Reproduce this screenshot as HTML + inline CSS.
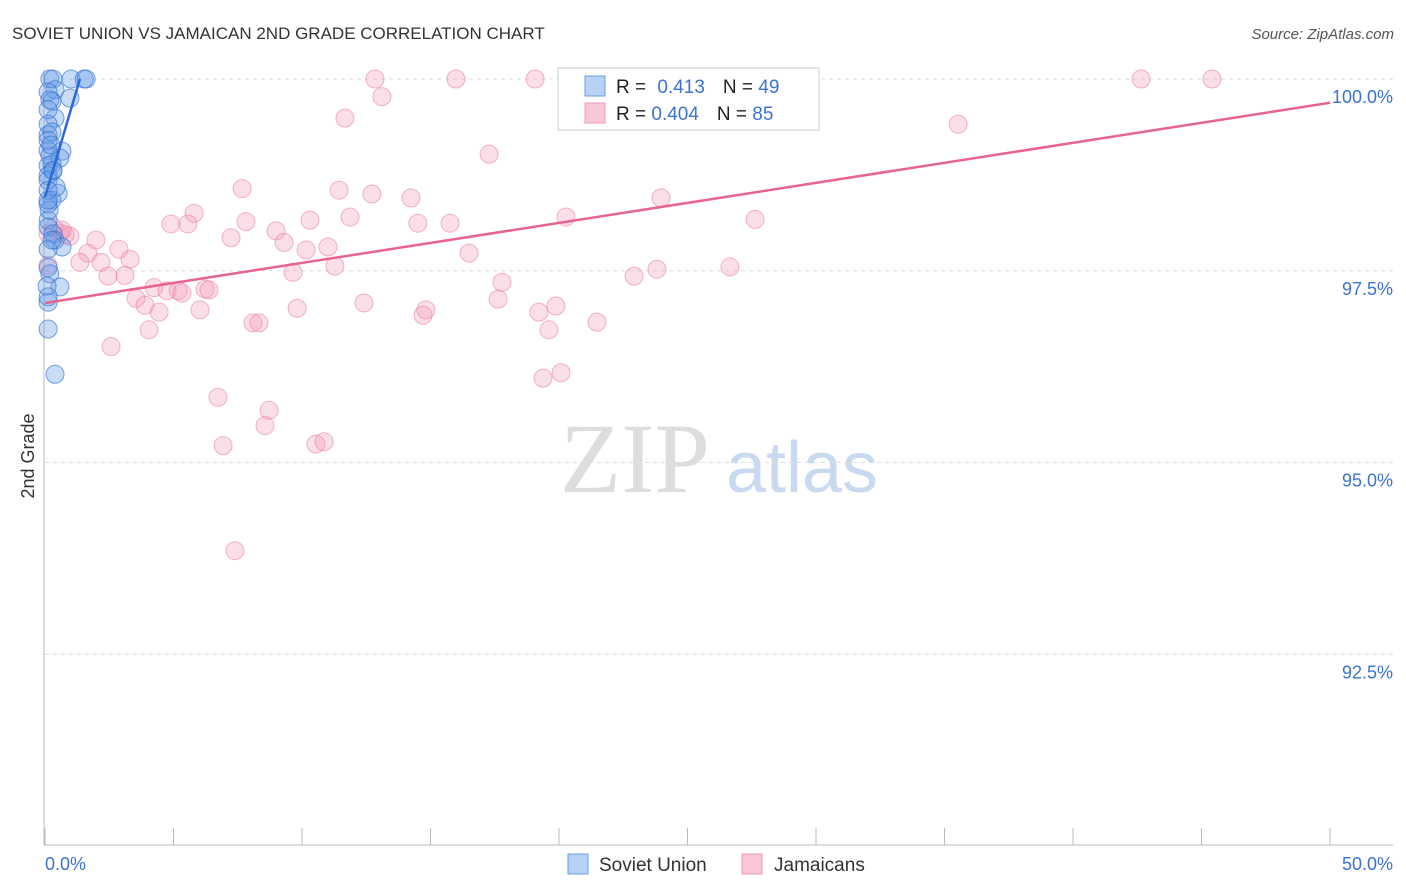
<!DOCTYPE html>
<html><head><meta charset="utf-8"><style>
body{margin:0;background:#fff;font-family:"Liberation Sans",sans-serif;}
svg{display:block}
</style></head><body>
<svg id="chart" width="1406" height="892">
<text x="12" y="39" font-size="17" fill="#333">SOVIET UNION VS JAMAICAN 2ND GRADE CORRELATION CHART</text>
<text x="1394" y="39" font-size="15" fill="#555" font-style="italic" text-anchor="end">Source: ZipAtlas.com</text>
<g>
<text x="635" y="492" font-size="100" fill="#ddd" text-anchor="middle" font-family="Liberation Serif,serif">ZIP</text>
<text x="802" y="492" font-size="72" fill="#c9daf0" text-anchor="middle">atlas</text>
</g>
<g id="grid"></g>
<g id="axes"></g>
<g id="pts"></g>
<g id="trend"></g>
<g>
<rect x="558" y="68" width="261" height="62" fill="#fff" stroke="#ccc"/>
<rect x="585" y="76" width="20" height="20" fill="#b8d2f5" stroke="#6a9fe0"/>
<rect x="585" y="103" width="20" height="20" fill="#f9c6d6" stroke="#ee9ab5"/>
<text x="616" y="93" font-size="19" fill="#222">R = <tspan fill="#3b73d1" dx="6">0.413</tspan><tspan dx="18" fill="#222">N = </tspan><tspan fill="#3b73d1">49</tspan></text>
<text x="616" y="120" font-size="19" fill="#222">R = <tspan fill="#3b73d1">0.404</tspan><tspan dx="18" fill="#222">N = </tspan><tspan fill="#3b73d1">85</tspan></text>
</g>
<text x="34" y="456" font-size="18" fill="#333" text-anchor="middle" transform="rotate(-90 34 456)">2nd Grade</text>
<g>
<rect x="568" y="854" width="20" height="20" fill="#b8d2f5" stroke="#6a9fe0"/>
<text x="599" y="871" font-size="19" fill="#333">Soviet Union</text>
<rect x="742" y="854" width="20" height="20" fill="#f9c6d6" stroke="#ee9ab5"/>
<text x="774" y="871" font-size="19" fill="#333">Jamaicans</text>
</g>
</svg>
<script>
const yTicks=[100,97.5,95,92.5];
const yTickLabels=["100.0%","97.5%","95.0%","92.5%"];
const xTickVals=[0,5,10,15,20,25,30,35,40,45,50];
const xEndLabels=["0.0%","50.0%"];
const pinkX=[12.84,15.99,19.07,26.5,27.24,42.65,45.41,13.11,11.67,35.53,17.28,7.67,23.97,11.44,12.72,14.24,5.8,4.9,5.56,7.82,10.31,11.87,14.51,15.76,20.27,27.63,8.99,7.24,9.3,10.16,11.01,16.5,0.35,0.58,0.97,1.98,2.88,1.67,1.36,2.18,3.31,9.65,11.28,22.92,23.81,26.65,2.45,3.11,17.78,3.54,3.89,4.24,4.75,5.18,5.33,6.23,6.38,6.03,4.44,9.81,12.41,14.82,14.71,17.63,19.22,19.88,19.61,21.48,4.05,8.09,8.33,2.57,6.73,8.72,8.56,6.93,10.54,10.86,7.39,19.38,20.08,0.12,0.12,0.78,0.66];
const pinkY=[100,100,100,100,100,100,100,99.77,99.49,99.41,99.02,98.57,98.45,98.55,98.5,98.45,98.25,98.11,98.11,98.14,98.16,98.2,98.12,98.12,98.2,98.17,98.02,97.93,97.87,97.77,97.81,97.73,98.06,97.99,97.95,97.9,97.78,97.73,97.61,97.61,97.65,97.48,97.56,97.43,97.52,97.55,97.43,97.44,97.35,97.14,97.05,97.28,97.24,97.24,97.21,97.26,97.25,96.99,96.96,97.01,97.08,96.99,96.92,97.13,96.96,97.04,96.73,96.83,96.73,96.82,96.82,96.51,95.85,95.68,95.48,95.22,95.24,95.27,93.85,96.1,96.17,97.57,97.98,97.97,98.03];
const blueX=[0.19,0.31,1.01,1.52,1.6,0.39,0.12,0.97,0.27,0.39,0.12,0.12,0.27,0.66,0.12,0.58,0.27,0.12,0.31,0.12,0.51,0.27,0.12,0.12,0.12,0.31,0.39,0.66,0.12,0.12,0.19,0.58,0.12,0.12,0.12,0.39,0.12,0.19,0.12,0.19,0.12,0.23,0.16,0.27,0.08,0.12,0.43,0.31,0.12];
const blueY=[100,100,100,100,100,99.86,99.83,99.75,99.71,99.49,99.41,99.27,99.31,99.06,99.07,98.97,98.89,98.87,98.8,98.74,98.51,98.42,98.37,98.16,98.07,97.98,97.9,97.81,97.78,97.54,97.46,97.29,97.09,97.16,96.74,96.15,98.68,99.0,99.2,99.73,99.6,99.14,98.29,97.9,97.3,98.42,98.59,98.81,98.55];
const pinkTrend=[97.08,99.69];
const blueTrend=[98.46,100];
const blueTrendXEnd=1.36;

const NS="http://www.w3.org/2000/svg";
const X=v=>45+v/50*1285;
const Y=v=>79+(100-v)*76.7;
function mk(tag,attrs,parent){const e=document.createElementNS(NS,tag);for(const k in attrs)e.setAttribute(k,attrs[k]);document.getElementById(parent).appendChild(e);return e;}
yTicks.forEach((t,i)=>{
 const g=mk('line',{x1:45,x2:1393,y1:Y(t),y2:Y(t),stroke:'#ddd','stroke-dasharray':'4 4'},'grid');
 
 
 const l=mk('text',{x:1393,y:Y(t)+24,'font-size':18,fill:'#3b73d1','text-anchor':'end'},'grid');
 l.textContent=yTickLabels[i];
 
 
});
const ax=mk('line',{x1:44,x2:44,y1:70,y2:845,stroke:'#bbb'},'axes');


const bx=mk('line',{x1:44,x2:1393,y1:845,y2:845,stroke:'#bbb'},'axes');


xTickVals.forEach(v=>{
 const t=mk('line',{x1:X(v),x2:X(v),y1:828,y2:845,stroke:'#bbb'},'axes');
 
 
});
const l0=mk('text',{x:45,y:870,'font-size':18,fill:'#3b73d1'},'axes');l0.textContent=xEndLabels[0];


const l1=mk('text',{x:1393,y:870,'font-size':18,fill:'#3b73d1','text-anchor':'end'},'axes');l1.textContent=xEndLabels[1];


pinkX.forEach((x,i)=>{
 const c=mk('circle',{cx:X(x),cy:Y(pinkY[i]),r:9,fill:'rgba(242,150,180,0.3)',stroke:'rgba(232,120,160,0.55)'},'pts');
 
 
});
blueX.forEach((x,i)=>{
 const c=mk('circle',{cx:X(x),cy:Y(blueY[i]),r:9,fill:'rgba(100,155,230,0.35)',stroke:'rgba(50,110,210,0.65)'},'pts');
 
 
});
const pt=mk('line',{x1:X(0),y1:Y(pinkTrend[0]),x2:X(50),y2:Y(pinkTrend[1]),stroke:'#e8638f','stroke-width':2.5},'trend');


const bt=mk('line',{x1:X(0),y1:Y(blueTrend[0]),x2:X(blueTrendXEnd),y2:Y(blueTrend[1]),stroke:'#2a6ad6','stroke-width':2.5},'trend');


</script>
</body></html>
